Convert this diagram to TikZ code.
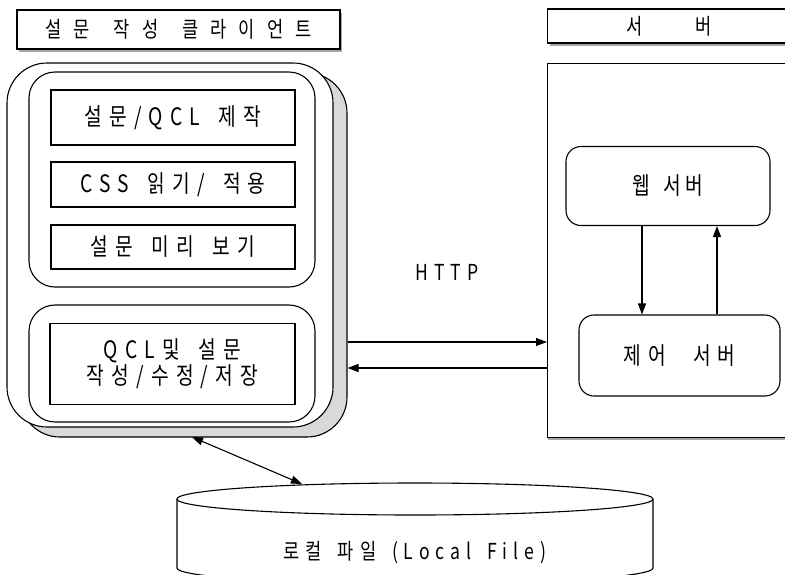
\documentclass[tikz,border=0pt]{standalone}
\usepackage{fontspec}
\setmainfont{Noto Sans CJK KR}
% narrow, letter-spaced cuts of the Korean face
\newfontfamily\boxfont[FakeStretch=0.8, LetterSpace=30, WordSpace=1.6]{Noto Sans CJK KR}
\newfontfamily\srvfont[FakeStretch=0.8, LetterSpace=18, WordSpace=1.5]{Noto Sans CJK KR}
\newfontfamily\ctrlfont[FakeStretch=0.8, LetterSpace=28, WordSpace=2.5]{Noto Sans CJK KR}
\newfontfamily\headfont[FakeStretch=0.8, LetterSpace=55, WordSpace=1.5]{Noto Sans CJK KR}
\newfontfamily\labelfont[FakeStretch=0.8, LetterSpace=27, WordSpace=1.6]{Noto Sans CJK KR}
\usetikzlibrary{arrows.meta,shadows}

\tikzset{
  base/.style={line width=1.1pt, draw=black},
  label/.style={font=\labelfont\fontsize{22}{26}\selectfont, align=center, inner sep=0pt},
  headbox/.style={base, rectangle, fill=white, inner sep=0pt,
    font=\headfont\fontsize{22}{26}\selectfont,
    drop shadow={shadow xshift=2pt, shadow yshift=-2.5pt, fill=gray!70, opacity=1}},
  panel/.style={base, rectangle, fill=white, inner sep=0pt},
  roundpanel/.style={base, rectangle, rounded corners=#1, fill=white, inner sep=0pt},
  taskbox/.style={base, rectangle, fill=white, inner sep=0pt,
    font=\boxfont\fontsize{24}{26}\selectfont, align=center},
  srvbox/.style={base, rectangle, rounded corners=15pt, fill=white, inner sep=0pt,
    font=\srvfont\fontsize{24}{25}\selectfont},
  arr/.style={base, -{Triangle[length=11pt,width=8pt]}},
  dblarr/.style={base, {Triangle[length=11pt,width=8pt]}-{Triangle[length=11pt,width=8pt]}}
}

\begin{document}
\begin{tikzpicture}[x=1pt,y=-1pt]
\useasboundingbox (0,0) rectangle (785,574);
\clip (0,0) rectangle (785,574);

% ---- client side ----
\node[headbox, minimum width=323pt, minimum height=39pt] (cltitle) at (178.5,29.5) {설문 작성 클라이언트};

% stippled shadow of the client frame, then the frame itself
\node[roundpanel=40pt, fill=gray!30, minimum width=327pt, minimum height=364pt] (clshadow) at (183.5,255) {};
\node[roundpanel=40pt, minimum width=326pt, minimum height=364pt] (client) at (170,245) {};

\node[roundpanel=26pt, minimum width=286pt, minimum height=215pt] (editgrp) at (172,179.5) {};
\node[roundpanel=26pt, minimum width=286pt, minimum height=117pt] (savegrp) at (172,363.5) {};

\node[taskbox, minimum width=244pt, minimum height=55pt] (make) at (173,117.5) {설문/QCL 제작};
\node[taskbox, minimum width=244pt, minimum height=45pt] (css) at (173,184.5) {CSS 읽기/ 적용};
\node[taskbox, minimum width=244pt, minimum height=44pt] (preview) at (173,247) {설문 미리 보기};
\node[taskbox, minimum width=245pt, minimum height=81pt] (store) at (172.5,364) {QCL및 설문\\작성/수정/저장};

% ---- server side ----
\node[headbox, minimum width=243pt, minimum height=34pt, anchor=west] (srvtitle) at (547,26) {서\hspace{52pt}버};
\node[panel, minimum width=260pt, minimum height=374pt, anchor=north west,
      drop shadow={shadow xshift=0pt, shadow yshift=-2.5pt, fill=gray!70, opacity=1}] (server) at (547,63) {};

\node[srvbox, minimum width=204pt, minimum height=79pt] (web) at (668,186) {웹 서버};
\node[srvbox, font=\ctrlfont\fontsize{24}{25}\selectfont, minimum width=201pt, minimum height=81pt] (ctrl) at (679.5,355.5) {제어 서버};

\coordinate (xdown) at (642,0);
\coordinate (xup) at (717,0);
\draw[arr] (web.south -| xdown) -- (ctrl.north -| xdown);
\draw[arr] (ctrl.north -| xup) -- (web.south -| xup);

% ---- HTTP link ----
\node[label] (http) at (447,272) {HTTP};
\coordinate (yreq) at (0,342);
\coordinate (yres) at (0,368);
\draw[arr] (clshadow.east |- yreq) -- (server.west |- yreq);
\draw[arr] (server.west |- yres) -- (clshadow.east |- yres);

% ---- local file store ----
\coordinate (disktop) at (302,484);
\coordinate (clientfoot) at (192,437);
\draw[base, fill=white] (177,499) -- (177,568) arc[start angle=180, end angle=0, x radius=238, y radius=16] -- (653,499);
\draw[base, fill=white] (415,499) ellipse[x radius=238, y radius=16];
\node[label] (local) at (415,553) {로컬 파일 (Local File)};
\draw[dblarr] (clientfoot) -- (disktop);
\end{tikzpicture}
\end{document}
